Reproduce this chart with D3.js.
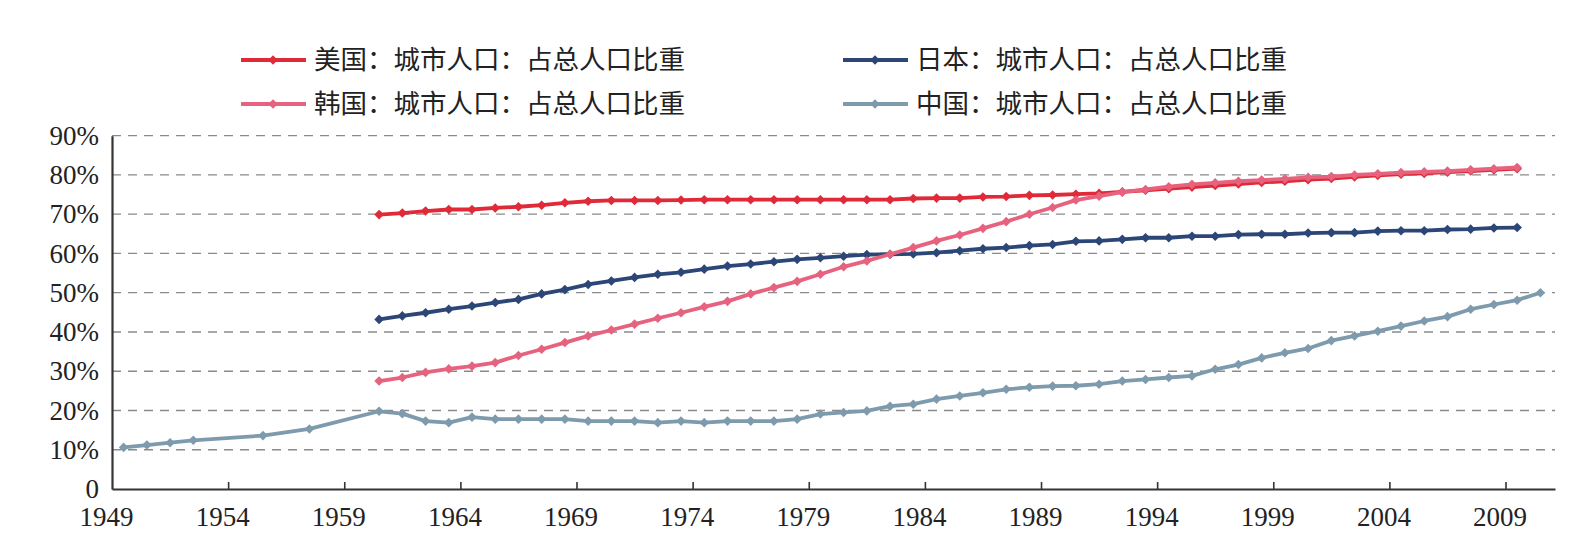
<!DOCTYPE html>
<html lang="zh">
<head>
<meta charset="UTF-8">
<title>城市人口占总人口比重</title>
<script src="https://d3js.org/d3.v7.min.js"></script>
<style>
  html, body { margin: 0; padding: 0; background: #fff; }
  svg { display: block; }
  .tick-label { font-family: "Liberation Serif", "DejaVu Serif", serif; font-size: 27px; fill: #222; }
  .legend-label { font-family: "Noto Sans CJK SC", sans-serif; font-size: 26px; fill: #222; }
</style>
</head>
<body>
<svg id="chart" width="1586" height="549"></svg>
<script>
// years shared by US / Japan / Korea
var years = d3.range(1960, 2010);

var usa = [69.9, 70.3, 70.8, 71.2, 71.2, 71.6, 71.9, 72.3, 72.9, 73.3,
           73.5, 73.5, 73.5, 73.6, 73.7, 73.7, 73.7, 73.7, 73.7, 73.7,
           73.7, 73.7, 73.7, 74.0, 74.1, 74.1, 74.4, 74.5, 74.8, 74.9,
           75.1, 75.3, 75.7, 76.1, 76.5, 76.9, 77.3, 77.7, 78.1, 78.4,
           78.8, 79.1, 79.5, 79.9, 80.2, 80.4, 80.7, 81.0, 81.3, 81.6];

var japan = [43.2, 44.1, 44.9, 45.8, 46.6, 47.5, 48.3, 49.7, 50.8, 52.1,
             53.0, 53.9, 54.7, 55.2, 56.0, 56.8, 57.3, 57.9, 58.5, 58.9,
             59.3, 59.7, 59.8, 59.9, 60.2, 60.7, 61.2, 61.5, 62.0, 62.3,
             63.1, 63.2, 63.6, 64.0, 64.0, 64.4, 64.4, 64.8, 64.9, 64.9,
             65.2, 65.3, 65.3, 65.7, 65.8, 65.8, 66.1, 66.2, 66.5, 66.6];

var korea = [27.5, 28.4, 29.7, 30.6, 31.3, 32.2, 34.0, 35.6, 37.3, 39.0,
             40.5, 42.0, 43.5, 44.9, 46.4, 47.8, 49.7, 51.3, 52.9, 54.7,
             56.6, 58.1, 59.8, 61.5, 63.2, 64.7, 66.4, 68.1, 70.0, 71.7,
             73.6, 74.6, 75.6, 76.3, 77.0, 77.6, 78.0, 78.4, 78.7, 79.0,
             79.4, 79.6, 80.0, 80.3, 80.6, 80.8, 81.0, 81.3, 81.6, 81.9];

var chinaYears = [1949, 1950, 1951, 1952, 1955, 1957].concat(d3.range(1960, 2011));
var china = [10.6, 11.2, 11.8, 12.4, 13.6, 15.3,
             19.8, 19.2, 17.3, 16.9, 18.3, 17.8, 17.8, 17.8, 17.8, 17.3,
             17.3, 17.3, 16.9, 17.3, 16.9, 17.3, 17.3, 17.3, 17.8, 19.1,
             19.5, 19.9, 21.1, 21.6, 22.9, 23.7, 24.5, 25.4, 25.9, 26.2,
             26.3, 26.7, 27.5, 27.9, 28.4, 28.8, 30.5, 31.7, 33.4, 34.7,
             35.8, 37.8, 39.0, 40.2, 41.5, 42.8, 43.9, 45.8, 47.0, 48.1, 50.0];

var seriesNames = ["美国：城市人口：占总人口比重", "日本：城市人口：占总人口比重",
                   "韩国：城市人口：占总人口比重", "中国：城市人口：占总人口比重"];
var seriesColors = ["#e02a38", "#2c4677", "#e6627e", "#7e9bae"];

var yTicks = [0, 10, 20, 30, 40, 50, 60, 70, 80, 90];
var xTicks = d3.range(1949, 2010, 5);

var series = [
  { name: seriesNames[0], color: seriesColors[0], pts: years.map(function(y, i) { return [y, usa[i]]; }) },
  { name: seriesNames[1], color: seriesColors[1], pts: years.map(function(y, i) { return [y, japan[i]]; }) },
  { name: seriesNames[2], color: seriesColors[2], pts: years.map(function(y, i) { return [y, korea[i]]; }) },
  { name: seriesNames[3], color: seriesColors[3], pts: chinaYears.map(function(y, i) { return [y, china[i]]; }) }
];

var svg = d3.select("#chart");
var plotLeft = 112, plotRight = 1555, plotTop = 135.7, plotBottom = 489;

var x = d3.scaleLinear().domain([1949, 2011.13]).range([plotLeft, plotRight]);
var y = d3.scaleLinear().domain([0, 90]).range([plotBottom, plotTop]);

// dashed gridlines
svg.append("g")
  .selectAll("line")
  .data(yTicks.filter(function(d) { return d > 0; }))
  .join("line")
  .attr("x1", plotLeft).attr("x2", plotRight)
  .attr("y1", function(d) { return y(d); })
  .attr("y2", function(d) { return y(d); })
  .attr("stroke", "#8a8a8a")
  .attr("stroke-width", 1.3)
  .attr("stroke-dasharray", "9,7");

// y axis
var yAxis = svg.append("g")
  .attr("transform", "translate(" + plotLeft + ",0)")
  .call(d3.axisLeft(y).tickValues(yTicks).tickSize(0).tickPadding(13)
    .tickFormat(function(d) { return d === 0 ? "0" : d + "%"; }));
yAxis.select(".domain").attr("stroke", "#333").attr("stroke-width", 2.2);
yAxis.selectAll("text").attr("class", "tick-label").attr("font-size", null).attr("font-family", null);

// x axis, ticks pointing inward
var xAxis = svg.append("g")
  .attr("transform", "translate(0," + plotBottom + ")")
  .call(d3.axisBottom(x).tickValues(xTicks).tickSizeInner(-7).tickSizeOuter(0)
    .tickPadding(0).tickFormat(d3.format("d")));
xAxis.select(".domain").attr("stroke", "#333").attr("stroke-width", 2.2);
xAxis.selectAll(".tick line").attr("stroke", "#333").attr("stroke-width", 1.6);
xAxis.selectAll(".tick").filter(function(d) { return d === 1949; }).select("line").remove();
xAxis.selectAll("text")
  .attr("class", "tick-label")
  .attr("font-size", null).attr("font-family", null)
  .attr("dy", null)
  .attr("y", 37)
  .attr("x", -6);

// lines and diamond markers; points sit mid-year
var line = d3.line()
  .x(function(d) { return x(d[0] + 0.5); })
  .y(function(d) { return y(d[1]); });
var marker = d3.symbol().type(d3.symbolSquare).size(46);

series.forEach(function(s) {
  var g = svg.append("g");
  g.append("path")
    .datum(s.pts)
    .attr("d", line)
    .attr("fill", "none")
    .attr("stroke", s.color)
    .attr("stroke-width", 3.8)
    .attr("stroke-linejoin", "round");
  g.selectAll("path.pt")
    .data(s.pts)
    .join("path")
    .attr("class", "pt")
    .attr("d", marker)
    .attr("fill", s.color)
    .attr("transform", function(d) {
      return "translate(" + x(d[0] + 0.5) + "," + y(d[1]) + ") rotate(45)";
    });
});

// legend, 2 columns x 2 rows
var legendX = [241, 843], legendY = [60, 104];
var legend = svg.append("g");
series.forEach(function(s, i) {
  var lx = legendX[i % 2], ly = legendY[Math.floor(i / 2)];
  var g = legend.append("g").attr("transform", "translate(" + lx + "," + ly + ")");
  g.append("line")
    .attr("x1", 0).attr("x2", 65).attr("y1", 0).attr("y2", 0)
    .attr("stroke", s.color).attr("stroke-width", 3.8);
  g.append("path")
    .attr("d", marker)
    .attr("fill", s.color)
    .attr("transform", "translate(32,0) rotate(45)");
  g.append("text")
    .attr("class", "legend-label")
    .attr("x", 73)
    .attr("y", 9)
    .attr("textLength", 371)
    .attr("lengthAdjust", "spacingAndGlyphs")
    .text(s.name);
});
</script>
</body>
</html>
